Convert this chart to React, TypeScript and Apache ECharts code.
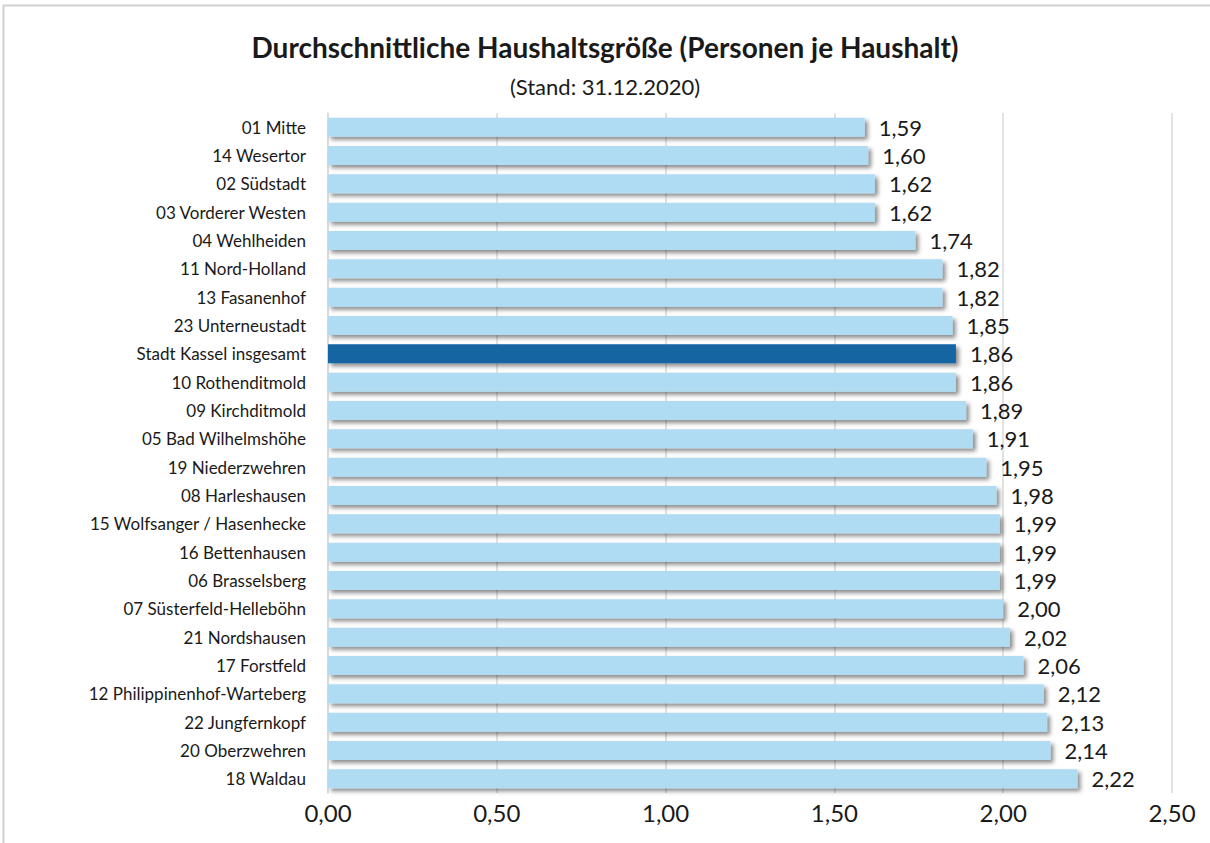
import React, { useEffect, useRef } from "react";
import * as echarts from "echarts";

const categories: string[] = [
  "01 Mitte",
  "14 Wesertor",
  "02 Südstadt",
  "03 Vorderer Westen",
  "04 Wehlheiden",
  "11 Nord-Holland",
  "13 Fasanenhof",
  "23 Unterneustadt",
  "Stadt Kassel insgesamt",
  "10 Rothenditmold",
  "09 Kirchditmold",
  "05 Bad Wilhelmshöhe",
  "19 Niederzwehren",
  "08 Harleshausen",
  "15 Wolfsanger / Hasenhecke",
  "16 Bettenhausen",
  "06 Brasselsberg",
  "07 Süsterfeld-Helleböhn",
  "21 Nordshausen",
  "17 Forstfeld",
  "12 Philippinenhof-Warteberg",
  "22 Jungfernkopf",
  "20 Oberzwehren",
  "18 Waldau",
];

const values: number[] = [
  1.59, 1.6, 1.62, 1.62, 1.74, 1.82, 1.82, 1.85, 1.86, 1.86, 1.89, 1.91, 1.95,
  1.98, 1.99, 1.99, 1.99, 2.0, 2.02, 2.06, 2.12, 2.13, 2.14, 2.22,
];

const highlightCategory = "Stadt Kassel insgesamt";

const titleText = "Durchschnittliche Haushaltsgröße (Personen je Haushalt)";
const subtitleText = "(Stand: 31.12.2020)";

const FONT = "Lato, 'Noto Sans', sans-serif";

export default function App() {
  const ref = useRef<HTMLDivElement>(null);

  useEffect(() => {
    if (!ref.current) return;
    const chart = echarts.init(ref.current, undefined, { renderer: "svg" });
    const fmt = (v: number) => v.toFixed(2).replace(".", ",");
    chart.setOption({
      animation: false,
      backgroundColor: "#ffffff",
      textStyle: { fontFamily: FONT },
      title: {
        text: titleText,
        subtext: subtitleText,
        left: "center",
        top: 28,
        itemGap: 14,
        textStyle: {
          fontFamily: FONT,
          fontSize: 28,
          fontWeight: "bold",
          color: "#1a1a1a",
        },
        subtextStyle: {
          fontFamily: FONT,
          fontSize: 22,
          color: "#1a1a1a",
        },
      },
      graphic: [
        {
          type: "rect",
          shape: { x: 3.5, y: 5.5, width: 1300, height: 900 },
          style: { fill: "none", stroke: "#cfcfcf", lineWidth: 2 },
          silent: true,
          z: -1,
        },
      ],
      grid: { left: 328, right: 38, top: 113, bottom: 50 },
      xAxis: {
        type: "value",
        min: 0,
        max: 2.5,
        interval: 0.5,
        axisLine: { show: false },
        axisTick: { show: false },
        splitLine: { show: true, lineStyle: { color: "#d9d9d9", width: 1.5 } },
        axisLabel: {
          formatter: (v: number) => fmt(v),
          fontFamily: FONT,
          fontSize: 24,
          color: "#1a1a1a",
          margin: 7,
        },
      },
      yAxis: {
        type: "category",
        data: categories,
        inverse: true,
        axisLine: { show: true, lineStyle: { color: "#d9d9d9", width: 1.5 } },
        axisTick: { show: false },
        axisLabel: {
          fontFamily: FONT,
          fontSize: 17,
          color: "#1a1a1a",
          margin: 22,
        },
      },
      series: [
        {
          type: "bar",
          data: values.map((v, i) => ({
            value: v,
            itemStyle: {
              color: categories[i] === highlightCategory ? "#1565a3" : "#afdcf3",
            },
          })),
          barWidth: 19,
          itemStyle: {
            shadowBlur: 4,
            shadowOffsetX: 3,
            shadowOffsetY: 3,
            shadowColor: "rgba(0,0,0,0.45)",
          },
          label: {
            show: true,
            position: "right",
            distance: 14,
            formatter: (p: any) => fmt(p.value),
            fontFamily: FONT,
            fontSize: 22,
            color: "#1a1a1a",
          },
        },
      ],
    });
    return () => chart.dispose();
  }, []);

  return (
    <div
      ref={ref}
      style={{ position: "fixed", left: 0, top: 0, width: 1210, height: 843 }}
    />
  );
}
